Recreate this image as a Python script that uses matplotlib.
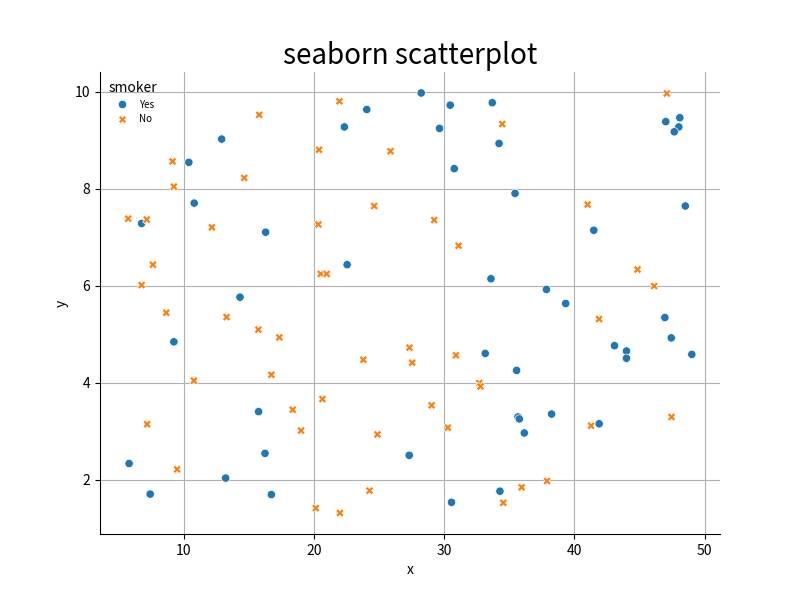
import matplotlib
matplotlib.use("Agg")
import matplotlib.pyplot as plt
import pandas as pd
import seaborn as sns

plt.rcParams['font.family'] = ['Noto Sans CJK JP', 'DejaVu Sans']

# smokers (Yes)
yes_x = [5.79, 7.41, 6.75, 9.23, 10.38, 10.79, 12.9, 13.21, 14.31, 15.74,
         16.28, 16.23, 16.72, 22.33, 24.05, 22.54, 27.31, 28.23, 29.64, 30.46,
         30.77, 30.56, 33.69, 34.21, 33.59, 33.15, 34.28, 35.44, 35.56, 35.67,
         35.77, 36.15, 38.25, 37.85, 39.33, 41.49, 41.9, 43.08, 44.0, 44.0,
         46.95, 47.44, 49.02, 47.02, 48.10, 48.02, 47.67, 48.52]
yes_y = [2.33, 1.70, 7.28, 4.84, 8.54, 7.70, 9.02, 2.03, 5.76, 3.40,
         7.10, 2.54, 1.69, 9.27, 9.63, 6.43, 2.50, 9.97, 9.24, 9.72,
         8.41, 1.53, 9.77, 8.93, 6.14, 4.60, 1.76, 7.90, 4.25, 3.29,
         3.25, 2.96, 3.35, 5.92, 5.63, 7.14, 3.15, 4.76, 4.65, 4.50,
         5.34, 4.92, 4.58, 9.38, 9.46, 9.27, 9.17, 7.64]

# non-smokers (No)
no_x = [5.72, 7.15, 7.62, 6.75, 8.64, 9.13, 9.23, 12.15, 13.28, 14.64,
        15.79, 15.72, 17.33, 16.72, 10.77, 18.36, 19.0, 7.18, 9.48, 20.64,
        20.13, 21.98, 24.26, 24.87, 21.95, 20.38, 25.87, 24.62, 20.33, 29.23,
        20.51, 20.97, 31.10, 27.33, 23.79, 27.54, 30.90, 29.03, 30.28, 32.69,
        32.79, 34.46, 34.54, 35.95, 37.9, 41.02, 41.28, 41.90, 44.85, 46.13,
        47.10, 47.46]
no_y = [7.38, 7.36, 6.43, 6.01, 5.44, 8.56, 8.04, 7.20, 5.35, 8.22,
        9.52, 5.09, 4.93, 4.16, 4.04, 3.44, 3.01, 3.14, 2.21, 3.66,
        1.41, 1.31, 1.77, 2.93, 9.80, 8.80, 8.77, 7.64, 7.26, 7.35,
        6.24, 6.24, 6.82, 4.72, 4.47, 4.41, 4.56, 3.53, 3.07, 3.99,
        3.92, 9.33, 1.52, 1.84, 1.97, 7.67, 3.11, 5.31, 6.33, 5.99,
        9.96, 3.29]

df = pd.DataFrame({
    "x": yes_x + no_x,
    "y": yes_y + no_y,
    "smoker": ["Yes"] * len(yes_x) + ["No"] * len(no_x),
})

fig, ax = plt.subplots(figsize=(8, 6), dpi=100)
sns.scatterplot(data=df, x="x", y="y", hue="smoker", style="smoker",
                hue_order=["Yes", "No"], style_order=["Yes", "No"], ax=ax)
ax.set_axisbelow(True)
ax.grid(True)
sns.despine()
ax.set_title("seaborn scatterplot", fontsize=20)
ax.legend(title="smoker", loc="upper left", frameon=False, fontsize=7,
          title_fontsize=10)

plt.savefig("out.png")
